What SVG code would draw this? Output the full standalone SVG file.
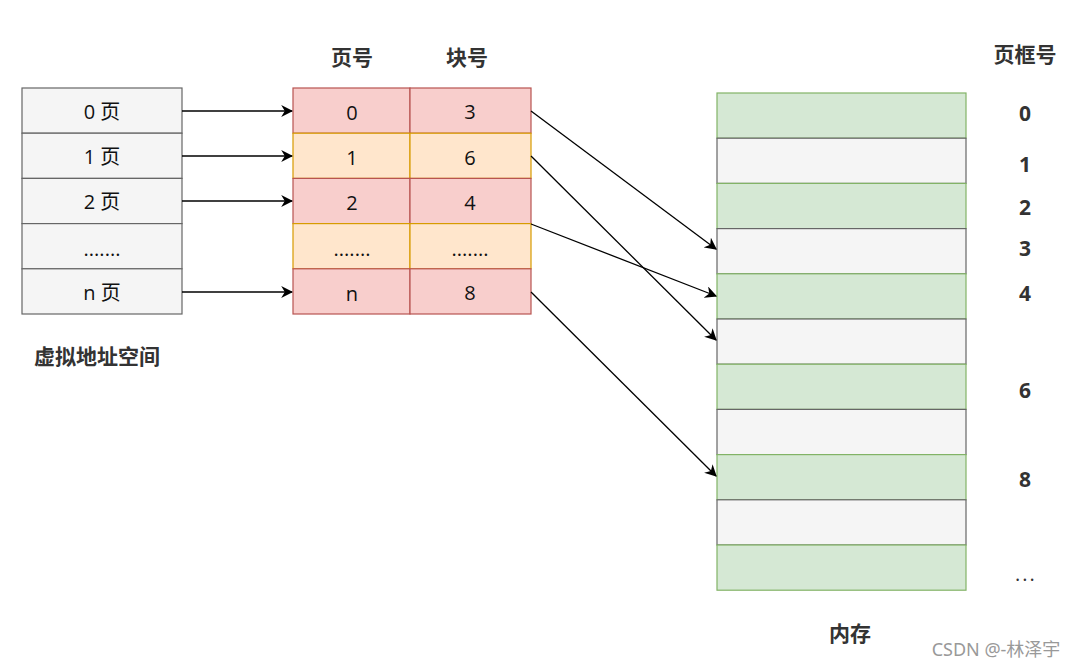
<svg xmlns="http://www.w3.org/2000/svg" width="1080" height="667" viewBox="0 0 1080 667">
<defs>
<marker id="ah" viewBox="0 0 10 10" refX="9" refY="5" markerWidth="12" markerHeight="12" markerUnits="userSpaceOnUse" orient="auto">
<path d="M0,0 L10,5 L0,10 L3,5 Z" fill="#000"/>
</marker>
</defs>
<style>
.gray{fill:#f5f5f5;stroke:#666666;stroke-width:1.2}
.red{fill:#f8cecc;stroke:#b85450;stroke-width:1.2}
.org{fill:#ffe6cc;stroke:#d79b00;stroke-width:1.2}
.grn{fill:#d5e8d4;stroke:#82b366;stroke-width:1.2}
.t{font-family:"Open Sans","Noto Sans CJK SC",sans-serif;font-size:20px;fill:#111;text-anchor:middle;dominant-baseline:central}
.h{font-family:"Noto Sans CJK SC",sans-serif;font-size:21px;font-weight:bold;fill:#333;text-anchor:middle;dominant-baseline:central}
.n{font-family:"Open Sans","Noto Sans",sans-serif;font-size:21px;font-weight:bold;fill:#333;text-anchor:middle;dominant-baseline:central}
.c{fill:none;stroke:#000;stroke-width:1.3;marker-end:url(#ah)}
</style>
<rect width="1080" height="667" fill="#fff"/>
<g id="vas">
<rect class="gray" x="22" y="88" width="160" height="45.2"/>
<rect class="gray" x="22" y="133.2" width="160" height="45.2"/>
<rect class="gray" x="22" y="178.4" width="160" height="45.2"/>
<rect class="gray" x="22" y="223.6" width="160" height="45.2"/>
<rect class="gray" x="22" y="268.8" width="160" height="45.2"/>
<text class="t" x="102" y="111">0 页</text>
<text class="t" x="102" y="156">1 页</text>
<text class="t" x="102" y="201">2 页</text>
<text class="t" x="102" y="248">.......</text>
<text class="t" x="102" y="292">n 页</text>
<text class="h" x="97" y="355">虚拟地址空间</text>
</g>
<g id="pagetable">
<text class="h" x="352" y="56">页号</text>
<text class="h" x="467" y="56">块号</text>
<rect class="red" x="293" y="88" width="117" height="45.2"/>
<rect class="red" x="410" y="88" width="121" height="45.2"/>
<rect class="org" x="293" y="133.2" width="117" height="45.2"/>
<rect class="org" x="410" y="133.2" width="121" height="45.2"/>
<rect class="red" x="293" y="178.4" width="117" height="45.2"/>
<rect class="red" x="410" y="178.4" width="121" height="45.2"/>
<rect class="org" x="293" y="223.6" width="117" height="45.2"/>
<rect class="org" x="410" y="223.6" width="121" height="45.2"/>
<rect class="red" x="293" y="268.8" width="117" height="45.2"/>
<rect class="red" x="410" y="268.8" width="121" height="45.2"/>
<text class="t" x="352" y="112">0</text>
<text class="t" x="470" y="111">3</text>
<text class="t" x="352" y="157">1</text>
<text class="t" x="470" y="157">6</text>
<text class="t" x="352" y="202">2</text>
<text class="t" x="470" y="202">4</text>
<text class="t" x="352" y="248">.......</text>
<text class="t" x="470" y="248">.......</text>
<text class="t" x="352" y="293">n</text>
<text class="t" x="470" y="292">8</text>
</g>
<g id="memory">
<rect class="grn" x="717" y="93" width="249" height="45.2"/>
<rect class="gray" x="717" y="138.2" width="249" height="45.2"/>
<rect class="grn" x="717" y="183.4" width="249" height="45.2"/>
<rect class="gray" x="717" y="228.6" width="249" height="45.2"/>
<rect class="grn" x="717" y="273.8" width="249" height="45.2"/>
<rect class="gray" x="717" y="319" width="249" height="45.2"/>
<rect class="grn" x="717" y="364.2" width="249" height="45.2"/>
<rect class="gray" x="717" y="409.4" width="249" height="45.2"/>
<rect class="grn" x="717" y="454.6" width="249" height="45.2"/>
<rect class="gray" x="717" y="499.8" width="249" height="45.2"/>
<rect class="grn" x="717" y="545" width="249" height="45.2"/>
<text class="h" x="850" y="632">内存</text>
</g>
<g id="frames">
<text class="h" x="1025" y="53">页框号</text>
<text class="n" x="1025" y="113">0</text>
<text class="n" x="1025" y="164">1</text>
<text class="n" x="1025" y="207">2</text>
<text class="n" x="1025" y="248">3</text>
<text class="n" x="1025" y="293">4</text>
<text class="n" x="1025" y="390">6</text>
<text class="n" x="1025" y="479">8</text>
<text x="1026" y="573" style="font-family:'Open Sans',sans-serif;font-size:20px;fill:#333;text-anchor:middle;dominant-baseline:central;letter-spacing:2px">...</text>
</g>
<g id="connectors">
<line class="c" x1="182" y1="111" x2="292" y2="111"/>
<line class="c" x1="182" y1="156" x2="292" y2="156"/>
<line class="c" x1="182" y1="201" x2="292" y2="201"/>
<line class="c" x1="182" y1="292" x2="292" y2="292"/>
<line class="c" x1="531" y1="111" x2="716" y2="249"/>
<line class="c" x1="531" y1="156" x2="716" y2="340"/>
<line class="c" x1="531" y1="224" x2="716" y2="296"/>
<line class="c" x1="531" y1="292" x2="716" y2="476"/>
</g>
<text x="996" y="649" style="font-family:'Noto Sans','Noto Sans CJK SC',sans-serif;font-size:18px;fill:#999;text-anchor:middle;dominant-baseline:central">CSDN @-林泽宇</text>
</svg>
